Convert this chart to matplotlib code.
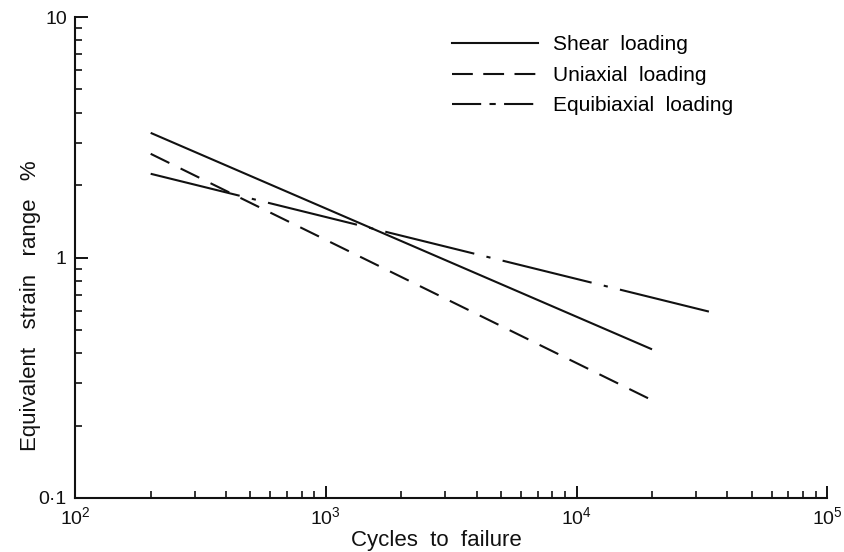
import matplotlib.pyplot as plt
from matplotlib.lines import Line2D

plt.rcParams['font.family'] = ['Liberation Sans', 'DejaVu Sans']
plt.rcParams['mathtext.fontset'] = 'custom'
plt.rcParams['mathtext.rm'] = 'Liberation Sans'
plt.rcParams['mathtext.default'] = 'regular'

# data (end points of each fitted line)
shear_n = [200, 20000]
shear_eps = [3.3, 0.415]
uni_n = [200, 20000]
uni_eps = [2.7, 0.255]
equi_n = [200, 35000]
equi_eps = [2.23, 0.59]

labels = ['Shear  loading', 'Uniaxial  loading', 'Equibiaxial  loading']
xticks = [1e2, 1e3, 1e4, 1e5]
xticklabels = ['$10^{2}$', '$10^{3}$', '$10^{4}$', '$10^{5}$']
yticks = [0.1, 1, 10]
yticklabels = ['0·1', '1', '10']

ink = '#111111'
fig = plt.figure(figsize=(8.45, 5.52), dpi=100)
ax = fig.add_axes([0.089, 0.098, 0.890, 0.871])

ax.plot(shear_n, shear_eps, color=ink, lw=1.5, solid_capstyle='butt')
ax.plot(uni_n, uni_eps, color=ink, lw=1.5, dashes=(10, 6), dash_capstyle='butt')
ax.plot(equi_n, equi_eps, color=ink, lw=1.5, dashes=(44, 6, 2, 6), dash_capstyle='butt')

ax.set_xscale('log')
ax.set_yscale('log')
ax.set_xlim(1e2, 1e5)
ax.set_ylim(0.1, 10)
ax.set_xticks(xticks, xticklabels)
ax.set_yticks(yticks, yticklabels)

for s in ['top', 'right']:
    ax.spines[s].set_visible(False)
for s in ['left', 'bottom']:
    ax.spines[s].set_linewidth(1.5)
    ax.spines[s].set_color(ink)

ax.tick_params(which='major', direction='in', length=9, width=1.4, colors=ink, pad=6)
ax.tick_params(which='minor', direction='in', length=5, width=1.2, colors=ink)
ax.tick_params(axis='x', labelsize=14)
ax.tick_params(axis='y', labelsize=14)

ax.set_xlabel('Cycles  to  failure', fontsize=16, color=ink)
ax.xaxis.set_label_coords(0.48, -0.067)
ax.set_ylabel('Equivalent   strain   range   %', fontsize=16, color=ink)
ax.yaxis.set_label_coords(-0.046, 0.40)

handles = [
    Line2D([], [], color=ink, lw=1.5),
    Line2D([], [], color=ink, lw=1.5, dashes=(10, 5)),
    Line2D([], [], color=ink, lw=1.5, dashes=(14, 4, 3, 4)),
]
ax.legend(handles, labels, loc='upper left', bbox_to_anchor=(0.501, 0.962),
          frameon=False, fontsize=15, handlelength=4.15, handletextpad=0.7,
          labelspacing=0.55, borderaxespad=0, borderpad=0)

fig.savefig('out.png', dpi=100, facecolor='white')
